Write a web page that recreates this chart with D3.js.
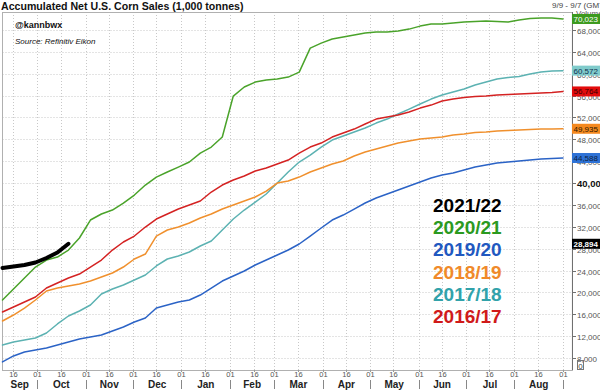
<!DOCTYPE html>
<html><head><meta charset="utf-8">
<script src="https://cdn.jsdelivr.net/npm/d3@7"></script>
<style>html,body{margin:0;padding:0;background:#fff;}svg{display:block;font-family:"Liberation Sans",Arial,sans-serif;}</style>
</head><body>
<svg id="c" width="600" height="390"></svg>
<script>
// ---- data ----
const weekDates = ["2020-09-09","2020-09-16","2020-09-23","2020-09-30","2020-10-07","2020-10-14","2020-10-21","2020-10-28",
"2020-11-04","2020-11-11","2020-11-18","2020-11-25","2020-12-02","2020-12-09","2020-12-16","2020-12-23","2020-12-30",
"2021-01-06","2021-01-13","2021-01-20","2021-01-27","2021-02-03","2021-02-10","2021-02-17","2021-02-24",
"2021-03-03","2021-03-10","2021-03-17","2021-03-24","2021-03-31","2021-04-07","2021-04-14","2021-04-21","2021-04-28",
"2021-05-05","2021-05-12","2021-05-19","2021-05-26","2021-06-02","2021-06-09","2021-06-16","2021-06-23","2021-06-30",
"2021-07-07","2021-07-14","2021-07-21","2021-07-28","2021-08-04","2021-08-11","2021-08-18","2021-08-25","2021-09-01"];
const seasons = ["2021/22","2020/21","2019/20","2018/19","2017/18","2016/17"];
const v2021_22 = [24460,24740,25010,25470,26290,27300,28894];
const v2020_21 = [18600,20620,22630,24640,25920,26470,27750,29950,33240,34340,35070,36350,37810,39640,41100,42020,42930,
43850,45490,46590,48420,55920,57570,58480,58850,59030,59390,60310,64700,65610,66350,66710,67080,67440,67630,67630,
67810,68170,68720,69090,69090,69270,69450,69550,69640,69550,69450,69820,70100,70190,70190,70023];
const v2019_20 = [7270,8370,9100,9460,9830,10380,10930,11480,11840,12210,12940,13670,14580,15320,17150,17690,18240,
18610,19520,20800,22080,23000,23910,25010,25920,26840,27750,28850,30310,31780,33240,34150,35250,36350,37260,38000,
38730,39460,40190,40920,41470,41840,42390,42930,43300,43670,43850,44030,44210,44400,44490,44588];
const v2018_19 = [14770,15860,17140,18610,20250,20800,21170,21530,22080,22810,23550,24640,26110,27020,30310,31410,31960,
32690,33610,34340,35250,35980,36720,37450,38540,40010,40370,41100,42020,42750,43480,44030,44950,45680,46230,46770,
47320,47690,48060,48240,48420,48790,48970,49240,49340,49520,49610,49700,49790,49880,49880,49935];
const v2017_18 = [10380,10930,11290,11660,12570,14220,15680,16600,17690,19710,20620,21350,22270,23180,24830,26110,26660,
27390,28490,29400,31410,33420,35070,36530,38000,40010,42020,43850,45130,46590,47870,48600,49340,50070,50980,51710,
52630,53540,54460,55370,56100,56650,57200,57930,58480,59030,59300,59480,59940,60310,60490,60572];
const v2016_17 = [16410,17330,18240,19160,20800,21720,22630,23360,24640,25920,27750,29220,30310,31960,33420,34340,35250,
35980,36720,38360,39640,40560,41290,42200,42750,43480,44210,45490,46590,47320,48420,49150,49880,50800,51710,52080,
52440,52990,53720,54270,55010,55370,55650,55830,55920,56100,56190,56290,56380,56470,56560,56764];
const yTicks = [8000,12000,16000,20000,24000,28000,32000,36000,40000,44000,48000,52000,56000,60000,64000,68000];
const months = ["Sep","Oct","Nov","Dec","Jan","Feb","Mar","Apr","May","Jun","Jul","Aug"];
const monthStarts = ["2020-09-01","2020-10-01","2020-11-01","2020-12-01","2021-01-01","2021-02-01","2021-03-01",
"2021-04-01","2021-05-01","2021-06-01","2021-07-01","2021-08-01","2021-09-01"];

// ---- styles ----
const lineColors = ["#000000","#4aa32a","#2b63c6","#f0902d","#5cb2b2","#d42222"];
const legendColors = ["#000000","#2b9a1f","#2158c0","#f08a2a","#31a2aa","#d01a1a"];
const boxColors = ["#000000","#3c9a1e","#2e72d6","#f5891f","#80cbcb","#e30c0c"];
const boxText = ["#ffffff","#ffffff","#0d1f40","#2a1800","#123050","#3a0000"];
const allValues = [v2021_22,v2020_21,v2019_20,v2018_19,v2017_18,v2016_17];

const parse = d3.utcParse("%Y-%m-%d");
const svg = d3.select("#c");
const L = 2.5, R = 572.4, T = 12, B = 370;
const x = d3.scaleUtc().domain([parse("2020-09-09"), parse("2021-09-07")]).range([L, R]);
const y = d3.scaleLinear().domain([5800, 71300]).range([B, T]);

// grid
const ticks16 = [];
monthStarts.forEach(m => { const d = parse(m); ticks16.push(d); ticks16.push(d3.utcDay.offset(d, 15)); });
const xTicks = ticks16.filter(d => d >= x.domain()[0] && d <= x.domain()[1]);
const g = svg.append("g");
g.selectAll(".vg").data(xTicks).join("line")
  .attr("x1", d => Math.round(x(d)) + 0.5).attr("x2", d => Math.round(x(d)) + 0.5)
  .attr("y1", T).attr("y2", B).attr("stroke", "#c8c8c8").attr("stroke-dasharray", "1,2");
g.selectAll(".hg").data(yTicks).join("line")
  .attr("x1", L).attr("x2", R).attr("y1", d => Math.round(y(d)) + 0.5).attr("y2", d => Math.round(y(d)) + 0.5)
  .attr("stroke", "#c8c8c8").attr("stroke-dasharray", "1,2");

// frame
svg.append("rect").attr("x", 2.5).attr("y", T + 0.5).attr("width", R - 2.5).attr("height", B - T)
  .attr("fill", "none").attr("stroke", "#b0b0b0");
svg.append("line").attr("x1", 572.5).attr("x2", 572.5).attr("y1", T).attr("y2", B).attr("stroke", "#707070");

// lines (draw older first, current season last)
const line = d3.line().x((d, i) => x(parse(weekDates[i]))).y(d => y(d));
const order = [4, 3, 2, 5, 1, 0];
order.forEach(k => {
  svg.append("path").datum(allValues[k]).attr("d", line).attr("fill", "none")
    .attr("stroke", lineColors[k]).attr("stroke-width", k === 0 ? 4 : 1.5)
    .attr("stroke-linejoin", "round").attr("stroke-linecap", "round");
});

// right axis
const ax = svg.append("g");
yTicks.forEach(t => {
  const yy = Math.round(y(t)) + 0.5;
  ax.append("line").attr("x1", 572).attr("x2", 576).attr("y1", yy).attr("y2", yy).attr("stroke", "#707070");
  ax.append("text").attr("x", 577).attr("y", yy + 3)
    .attr("font-size", t === 40000 ? 9.5 : 8).attr("font-weight", t === 40000 ? "bold" : "normal")
    .attr("fill", t === 40000 ? "#111" : "#555").text(d3.format(",")(t));
});
// volume pane zero
svg.append("rect").attr("x", 577.5).attr("y", 360.5).attr("width", 6).attr("height", 9).attr("fill", "none").attr("stroke", "#777");
svg.append("text").attr("x", 578.3).attr("y", 368.5).attr("font-size", 8).attr("fill", "#444").text("0");

// top-right date range
svg.append("text").attr("x", 552).attr("y", 8).attr("font-size", 8).attr("fill", "#444").text("9/9 - 9/7 (GMT)");
svg.append("text").attr("x", 576).attr("y", 16).attr("font-size", 8).attr("fill", "#555").text("Volume");

// last-value labels
seasons.forEach((s, k) => {
  const v = allValues[k][allValues[k].length - 1];
  const yy = y(v);
  svg.append("rect").attr("x", 572).attr("y", yy - 5).attr("width", 30).attr("height", 10).attr("fill", boxColors[k]);
  svg.append("text").attr("x", 573.5).attr("y", yy + 3).attr("font-size", 8).attr("fill", boxText[k])
    .attr("font-weight", k === 0 ? "bold" : "normal").text(d3.format(",")(v));
});

// x axis labels
xTicks.forEach(d => {
  const xx = Math.round(x(d)) + 0.5;
  svg.append("line").attr("x1", xx).attr("x2", xx).attr("y1", B).attr("y2", B + 2).attr("stroke", "#999");
  svg.append("text").attr("x", xx).attr("y", 377).attr("text-anchor", "middle").attr("font-size", 7.5)
    .attr("fill", "#555").text(d3.utcFormat("%d")(d));
});
months.forEach((m, i) => {
  const a = Math.max(x(parse(monthStarts[i])), L), b = x(parse(monthStarts[i + 1]));
  svg.append("text").attr("x", (a + b) / 2).attr("y", 388).attr("text-anchor", "middle")
    .attr("font-size", 10).attr("font-weight", "bold").attr("fill", "#222").text(m);
});
monthStarts.slice(1).forEach(m => {
  const xx = Math.round(x(parse(m))) + 0.5;
  svg.append("line").attr("x1", xx).attr("x2", xx).attr("y1", 380).attr("y2", 389).attr("stroke", "#888");
});

// titles
svg.append("text").attr("x", 1).attr("y", 10).attr("font-size", 10.6).attr("font-weight", "bold").attr("fill", "#111")
  .text("Accumulated Net U.S. Corn Sales (1,000 tonnes)");
svg.append("text").attr("x", 15).attr("y", 28).attr("font-size", 9).attr("font-weight", "bold").attr("fill", "#111").text("@kannbwx");
svg.append("text").attr("x", 15).attr("y", 44).attr("font-size", 8).attr("font-style", "italic").attr("fill", "#111").text("Source: Refinitiv Eikon");

// legend
seasons.forEach((s, k) => {
  svg.append("text").attr("x", 433).attr("y", 212 + k * 22.2).attr("font-size", 19).attr("font-weight", "bold")
    .attr("fill", legendColors[k]).text(s);
});
</script>
</body></html>
